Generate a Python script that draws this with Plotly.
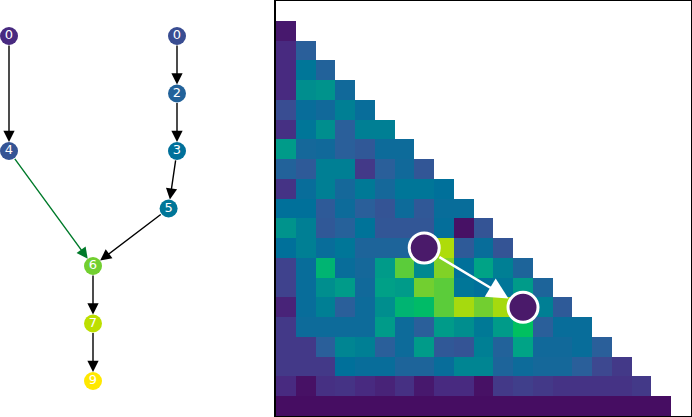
import plotly.graph_objects as go

# ---- graph (left) ----
node_labels = ["0", "4", "0", "2", "3", "5", "6", "7", "9"]
node_x = [0, 0, 1, 1, 1, 0.95, 0.5, 0.5, 0.5]
node_level = [0, 2, 0, 1, 2, 3, 4, 5, 6]
node_value = [0.1, 0.25, 0.22, 0.32, 0.4, 0.42, 0.8, 0.9, 1.0]
edges = [(0, 1), (2, 3), (3, 4), (4, 5), (5, 6), (1, 6), (6, 7), (7, 8)]
edge_colors = ["black", "black", "black", "black", "black", "green", "black", "black"]

# ---- lower-triangular matrix (right), row r has r cells ----
rows = [
    [],
    [0.05],
    [0.1, 0.3],
    [0.1, 0.42, 0.32],
    [0.1, 0.5, 0.52, 0.36],
    [0.22, 0.38, 0.36, 0.45, 0.38],
    [0.12, 0.42, 0.5, 0.3, 0.45, 0.45],
    [0.55, 0.35, 0.36, 0.3, 0.27, 0.37, 0.37],
    [0.32, 0.28, 0.45, 0.45, 0.15, 0.3, 0.36, 0.26],
    [0.13, 0.38, 0.45, 0.35, 0.43, 0.35, 0.42, 0.42, 0.4],
    [0.4, 0.4, 0.28, 0.37, 0.3, 0.25, 0.37, 0.27, 0.38, 0.38],
    [0.52, 0.45, 0.27, 0.31, 0.41, 0.26, 0.26, 0.26, 0.39, 0.03, 0.25],
    [0.4, 0.45, 0.38, 0.42, 0.33, 0.33, 0.33, 0.4, 0.88, 0.28, 0.38, 0.25],
    [0.18, 0.38, 0.65, 0.38, 0.35, 0.55, 0.78, 0.48, 0.82, 0.4, 0.58, 0.45, 0.33],
    [0.18, 0.38, 0.5, 0.55, 0.36, 0.57, 0.55, 0.8, 0.78, 0.42, 0.4, 0.42, 0.55, 0.33],
    [0.08, 0.38, 0.45, 0.3, 0.37, 0.5, 0.65, 0.68, 0.78, 0.87, 0.8, 0.87, 0.6, 0.45, 0.28],
    [0.15, 0.37, 0.37, 0.37, 0.37, 0.55, 0.37, 0.3, 0.55, 0.5, 0.43, 0.55, 0.7, 0.3, 0.38, 0.38],
    [0.15, 0.15, 0.3, 0.47, 0.45, 0.3, 0.37, 0.55, 0.27, 0.25, 0.45, 0.32, 0.58, 0.36, 0.36, 0.38, 0.3],
    [0.15, 0.15, 0.15, 0.4, 0.38, 0.38, 0.33, 0.33, 0.38, 0.47, 0.47, 0.33, 0.37, 0.35, 0.35, 0.3, 0.2, 0.15],
    [0.1, 0.03, 0.12, 0.13, 0.1, 0.08, 0.12, 0.05, 0.1, 0.1, 0.03, 0.15, 0.17, 0.15, 0.13, 0.13, 0.13, 0.13, 0.15],
    [0.02, 0.02, 0.02, 0.02, 0.02, 0.02, 0.02, 0.02, 0.02, 0.02,
     0.02, 0.02, 0.02, 0.02, 0.02, 0.02, 0.02, 0.02, 0.02, 0.02],
]
n = len(rows)
markers_col = [7, 12]
markers_row = [12, 15]

# viridis, a bit more saturated like the original rendering
cmap = [
    [0.0, "#46065a"], [0.1, "#482a80"], [0.2, "#3d4890"], [0.3, "#2a5f9a"],
    [0.4, "#00709a"], [0.5, "#008e8e"], [0.6, "#00a884"], [0.7, "#00c060"],
    [0.8, "#72cf30"], [0.9, "#bddf00"], [1.0, "#ffe800"],
]

z = [r + [None] * (n - len(r)) for r in rows]
cells = [i + 0.5 for i in range(n)]

fig = go.Figure()

fig.add_trace(go.Heatmap(z=z, x=cells, y=cells, colorscale=cmap, zmin=0, zmax=1,
                         showscale=False, hoverongaps=False, xaxis="x", yaxis="y"))
fig.add_trace(go.Scatter(x=[c + 0.5 for c in markers_col], y=[r + 0.5 for r in markers_row],
                         mode="markers", xaxis="x", yaxis="y",
                         marker=dict(size=30, color="#4a1a6a", line=dict(color="white", width=3))))
fig.add_annotation(x=markers_col[1] + 0.5, y=markers_row[1] + 0.5,
                   ax=markers_col[0] + 0.5, ay=markers_row[0] + 0.5,
                   xref="x", yref="y", axref="x", ayref="y", text="", showarrow=True,
                   arrowhead=2, arrowsize=1.7, arrowwidth=2.5, arrowcolor="white",
                   standoff=17, startstandoff=16)

# graph edges as arrows
for (a, b), col in zip(edges, edge_colors):
    fig.add_annotation(x=node_x[b], y=node_level[b], ax=node_x[a], ay=node_level[a],
                       xref="x2", yref="y2", axref="x2", ayref="y2", text="", showarrow=True,
                       arrowhead=2, arrowsize=1.6, arrowwidth=1.4,
                       arrowcolor="#007a2a" if col == "green" else col,
                       standoff=9, startstandoff=8)

fig.add_trace(go.Scatter(x=node_x, y=node_level, mode="markers+text", text=node_labels,
                         xaxis="x2", yaxis="y2",
                         textfont=dict(color="white", size=13, family="DejaVu Sans"),
                         marker=dict(size=18, color=node_value, colorscale=cmap,
                                     cmin=0, cmax=1, line=dict(width=0))))

fig.update_layout(
    width=692, height=417, margin=dict(l=0, r=0, t=0, b=0),
    paper_bgcolor="white", plot_bgcolor="white", showlegend=False,
    xaxis=dict(domain=[276 / 692, 691 / 692], range=[0, n], showgrid=False, zeroline=False,
               showticklabels=False, ticks="", showline=True, mirror=True,
               linecolor="black", linewidth=1.5),
    yaxis=dict(domain=[1 / 417, 416 / 417], range=[n, 0], showgrid=False, zeroline=False,
               showticklabels=False, ticks="", showline=True, mirror=True,
               linecolor="black", linewidth=1.5),
    xaxis2=dict(domain=[0, 276 / 692], range=[-9 / 168, 267 / 168], visible=False),
    yaxis2=dict(domain=[0, 1], range=[6.626, -0.626], visible=False),
)

# page has a default 8px body margin; drop it so the figure fills the window
fig.write_html("out.html", config={"displayModeBar": False},
               post_script="document.body.style.margin='0';")
